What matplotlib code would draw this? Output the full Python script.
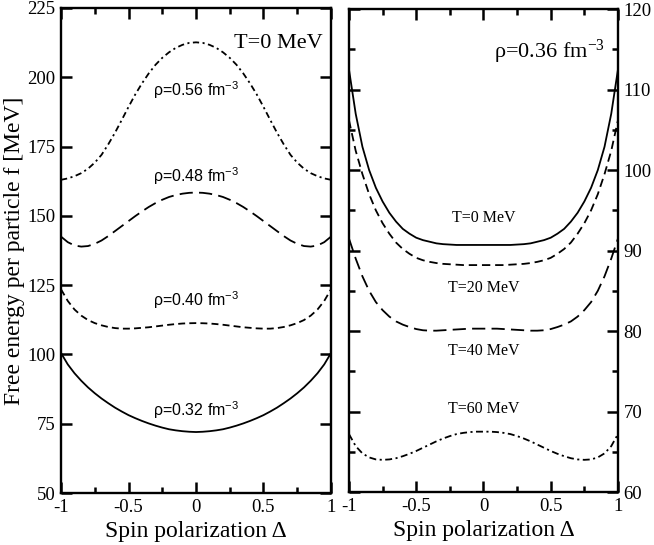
import numpy as np
import matplotlib
matplotlib.use("Agg")
from matplotlib import pyplot as plt
from matplotlib.ticker import MultipleLocator

plt.rcParams['lines.scale_dashes'] = False
plt.rcParams['mathtext.default'] = 'regular'

# spin polarization grid (read points)
delta = [-1.0, -0.95, -0.9, -0.85, -0.8, -0.75, -0.7, -0.65, -0.6, -0.55, -0.5,
         -0.45, -0.4, -0.35, -0.3, -0.25, -0.2, -0.15, -0.1, -0.05, 0.0,
         0.05, 0.1, 0.15, 0.2, 0.25, 0.3, 0.35, 0.4, 0.45, 0.5,
         0.55, 0.6, 0.65, 0.7, 0.75, 0.8, 0.85, 0.9, 0.95, 1.0]

# left panel, T = 0 MeV, different densities
f_rho056 = [163.0, 163.5, 164.3, 165.4, 167.0, 169.2, 172.0, 175.8, 180.0, 184.6, 189.3,
            193.8, 197.8, 201.4, 204.5, 207.0, 209.0, 210.6, 211.7, 212.4, 212.6,
            212.4, 211.7, 210.6, 209.0, 207.0, 204.5, 201.4, 197.8, 193.8, 189.3,
            184.6, 180.0, 175.8, 172.0, 169.2, 167.0, 165.4, 164.3, 163.5, 163.0]
f_rho048 = [142.5, 140.5, 139.3, 138.9, 139.1, 139.9, 141.1, 142.7, 144.5, 146.3, 148.1,
            149.9, 151.6, 153.2, 154.6, 155.8, 156.8, 157.5, 158.0, 158.3, 158.4,
            158.3, 158.0, 157.5, 156.8, 155.8, 154.6, 153.2, 151.6, 149.9, 148.1,
            146.3, 144.5, 142.7, 141.1, 139.9, 139.1, 138.9, 139.3, 140.5, 142.5]
f_rho040 = [123.5, 119.3, 116.2, 114.0, 112.4, 111.3, 110.5, 109.9, 109.5, 109.3, 109.3,
            109.4, 109.6, 109.8, 110.1, 110.4, 110.7, 110.95, 111.15, 111.25, 111.3,
            111.25, 111.15, 110.95, 110.7, 110.4, 110.1, 109.8, 109.6, 109.4, 109.3,
            109.3, 109.5, 109.9, 110.5, 111.3, 112.4, 114.0, 116.2, 119.3, 123.5]
f_rho032 = [100.5, 96.4, 93.2, 90.5, 88.1, 86.0, 84.1, 82.4, 80.8, 79.4, 78.1,
            77.0, 76.0, 75.1, 74.3, 73.6, 73.0, 72.6, 72.3, 72.1, 72.0,
            72.1, 72.3, 72.6, 73.0, 73.6, 74.3, 75.1, 76.0, 77.0, 78.1,
            79.4, 80.8, 82.4, 84.1, 86.0, 88.1, 90.5, 93.2, 96.4, 100.5]

# right panel, rho = 0.36 fm^-3, different temperatures
f_T0 = [112.5, 107.0, 102.9, 100.0, 97.8, 96.1, 94.7, 93.6, 92.7, 92.1, 91.6,
        91.3, 91.1, 90.9, 90.8, 90.75, 90.7, 90.7, 90.7, 90.7, 90.7,
        90.7, 90.7, 90.7, 90.7, 90.75, 90.8, 90.9, 91.1, 91.3, 91.6,
        92.1, 92.7, 93.6, 94.7, 96.1, 97.8, 100.0, 102.9, 107.0, 112.5]
f_T20 = [106.2, 102.4, 99.5, 97.0, 95.0, 93.4, 92.1, 91.0, 90.2, 89.6, 89.1,
         88.8, 88.6, 88.45, 88.35, 88.3, 88.25, 88.2, 88.2, 88.2, 88.2,
         88.2, 88.2, 88.2, 88.25, 88.3, 88.35, 88.45, 88.6, 88.8, 89.1,
         89.6, 90.2, 91.0, 92.1, 93.4, 95.0, 97.0, 99.5, 102.4, 106.2]
f_T40 = [91.5, 89.0, 86.8, 85.0, 83.6, 82.6, 81.8, 81.2, 80.8, 80.5, 80.25,
         80.1, 80.05, 80.05, 80.1, 80.15, 80.2, 80.25, 80.3, 80.3, 80.3,
         80.3, 80.3, 80.25, 80.2, 80.15, 80.1, 80.05, 80.05, 80.1, 80.25,
         80.5, 80.8, 81.2, 81.8, 82.6, 83.6, 85.0, 86.8, 89.0, 91.5]
f_T60 = [67.2, 65.7, 64.8, 64.3, 64.05, 64.0, 64.05, 64.2, 64.45, 64.75, 65.1,
         65.5, 65.9, 66.3, 66.65, 66.95, 67.2, 67.35, 67.45, 67.5, 67.5,
         67.5, 67.45, 67.35, 67.2, 66.95, 66.65, 66.3, 65.9, 65.5, 65.1,
         64.75, 64.45, 64.2, 64.05, 64.0, 64.05, 64.3, 64.8, 65.7, 67.2]

rho_labels = ['ρ=0.56 fm$^{-3}$', 'ρ=0.48 fm$^{-3}$', 'ρ=0.40 fm$^{-3}$', 'ρ=0.32 fm$^{-3}$']
rho_label_y = [195.5, 164.4, 119.7, 80.0]
T_labels = ['T=0 MeV', 'T=20 MeV', 'T=40 MeV', 'T=60 MeV']
T_label_y = [94.0, 85.3, 77.5, 70.3]

serif = 'Liberation Serif'
sans = 'Liberation Sans'

fig = plt.figure(figsize=(6.54, 5.45), dpi=100)
ax1 = fig.add_axes([0.0933, 0.0954, 0.4128, 0.890])
ax2 = fig.add_axes([0.5336, 0.0972, 0.4113, 0.886])


def style_axes(ax, yticks, ymin=None):
    ax.set_xlim(-1, 1)
    ax.set_xticks([-1, -0.5, 0, 0.5, 1])
    ax.set_xticklabels(['-1', '-0.5', '0', '0.5', '1'], family=serif)
    ax.xaxis.set_minor_locator(MultipleLocator(0.25))
    ax.set_yticks(yticks)
    ax.set_yticklabels([str(v) for v in yticks], family=serif)
    if ymin is not None:
        ax.yaxis.set_minor_locator(MultipleLocator(ymin))
    ax.tick_params(which='both', direction='in', top=True, bottom=True,
                   left=True, right=True, width=1.8, color='black',
                   labelsize=13.5, pad=4)
    ax.tick_params(which='major', length=8)
    ax.tick_params(which='minor', length=4)
    for s in ax.spines.values():
        s.set_linewidth(1.7)
    ax.set_xlabel('Spin polarization Δ', family=serif, fontsize=17, labelpad=4)


# left panel
lw = 1.3
ax1.plot(delta, f_rho056, color='black', lw=lw, linestyle=(0, (4.5, 2.5, 1.5, 2.5)))
ax1.plot(delta, f_rho048, color='black', lw=lw, linestyle=(0, (9.5, 4.5)))
ax1.plot(delta, f_rho040, color='black', lw=lw, linestyle=(0, (5, 3)))
ax1.plot(delta, f_rho032, color='black', lw=lw, linestyle='-')
ax1.set_ylim(50, 225)
style_axes(ax1, [50, 75, 100, 125, 150, 175, 200, 225])
ax1.set_ylabel('Free energy per particle f [MeV]', family=serif, fontsize=17, labelpad=2)
for lab, y in zip(rho_labels, rho_label_y):
    ax1.text(0, y, lab, family=sans, fontsize=11.5, ha='center', va='center')
ax1.text(0.94, 210.6, 'T=0 MeV', family=serif, fontsize=16, ha='right', va='baseline')

# right panel
ax2.plot(delta, f_T0, color='black', lw=lw, linestyle='-')
ax2.plot(delta, f_T20, color='black', lw=lw, linestyle=(0, (6, 3.5)))
ax2.plot(delta, f_T40, color='black', lw=lw, linestyle=(0, (9.5, 4.5)))
ax2.plot(delta, f_T60, color='black', lw=lw, linestyle=(0, (5, 2.5, 1.5, 2.5)))
ax2.set_ylim(60, 120)
style_axes(ax2, [60, 70, 80, 90, 100, 110, 120], 5)
ax2.tick_params(axis='y', which='both', labelleft=False, labelright=True)
for lab, y in zip(T_labels, T_label_y):
    ax2.text(0, y, lab, family=serif, fontsize=11.5, ha='center', va='center')
ax2.text(0.90, 113.9, 'ρ=0.36 fm$^{-3}$', family=serif, fontsize=16, ha='right', va='baseline')

fig.savefig('out.png', dpi=100)
